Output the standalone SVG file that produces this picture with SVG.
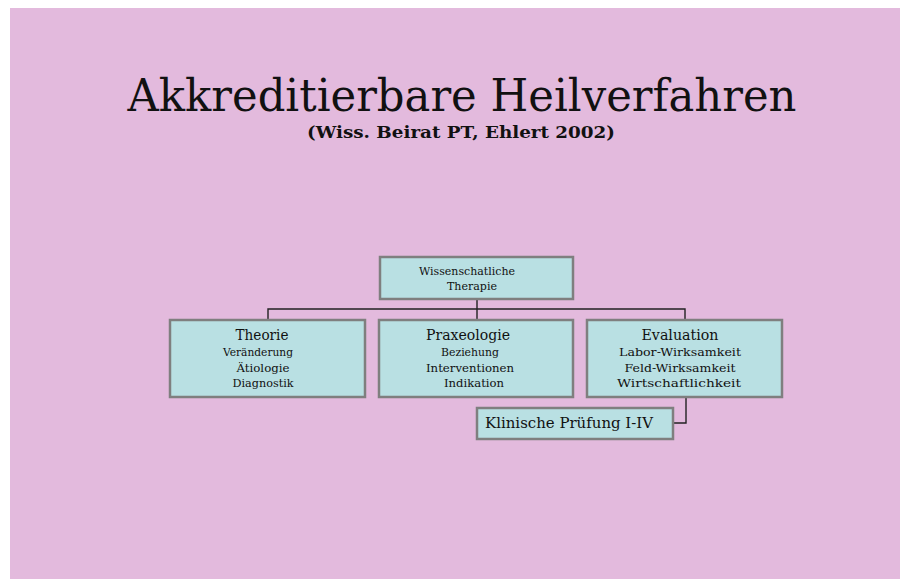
<svg xmlns="http://www.w3.org/2000/svg" width="900" height="579" viewBox="0 0 900 579">
<style>
.box{fill:#b9e0e3;stroke:#7f7f7f;stroke-width:2.5}
.t{font-family:'DejaVu Serif',serif;fill:#111;text-anchor:middle}
.h{font-size:14px}
.s{font-size:10.5px}
.conn{fill:none;stroke:#222;stroke-width:1.4}
</style>
<rect x="0" y="0" width="900" height="579" fill="#ffffff"/>
<rect x="10" y="8" width="890" height="571" fill="#e3badd"/>
<text class="t" x="462" y="111" font-size="44" textLength="669" lengthAdjust="spacingAndGlyphs">Akkreditierbare Heilverfahren</text>
<text class="t" x="461" y="138" font-size="17" font-weight="bold" textLength="308" lengthAdjust="spacingAndGlyphs">(Wiss. Beirat PT, Ehlert 2002)</text>
<g id="connectors">
<path class="conn" d="M477,299 V309 M268,320 V309 H685 V320 M477,309 V320"/>
<path class="conn" d="M686,397 V423 H673"/>
</g>
<g id="wissenschaftliche">
<rect class="box" x="380" y="257" width="193" height="42"/>
<text class="t s" x="467" y="275" textLength="96" lengthAdjust="spacingAndGlyphs">Wissenschatliche</text>
<text class="t s" x="472" y="290" textLength="50" lengthAdjust="spacingAndGlyphs">Therapie</text>
</g>
<g id="theorie">
<rect class="box" x="170" y="320" width="195" height="77"/>
<text class="t h" x="262" y="340" textLength="53" lengthAdjust="spacingAndGlyphs">Theorie</text>
<text class="t s" x="258" y="356" textLength="70" lengthAdjust="spacingAndGlyphs">Veränderung</text>
<text class="t s" x="263" y="372" textLength="53" lengthAdjust="spacingAndGlyphs">Ätiologie</text>
<text class="t s" x="263" y="387" textLength="61" lengthAdjust="spacingAndGlyphs">Diagnostik</text>
</g>
<g id="praxeologie">
<rect class="box" x="379" y="320" width="194" height="77"/>
<text class="t h" x="468" y="340" textLength="84" lengthAdjust="spacingAndGlyphs">Praxeologie</text>
<text class="t s" x="470" y="356" textLength="58" lengthAdjust="spacingAndGlyphs">Beziehung</text>
<text class="t s" x="470" y="372" textLength="88" lengthAdjust="spacingAndGlyphs">Interventionen</text>
<text class="t s" x="474" y="387" textLength="60" lengthAdjust="spacingAndGlyphs">Indikation</text>
</g>
<g id="evaluation">
<rect class="box" x="587" y="320" width="195" height="77"/>
<text class="t h" x="680" y="340" textLength="77" lengthAdjust="spacingAndGlyphs">Evaluation</text>
<text class="t s" x="680" y="356" textLength="122" lengthAdjust="spacingAndGlyphs">Labor-Wirksamkeit</text>
<text class="t s" x="680" y="372" textLength="111" lengthAdjust="spacingAndGlyphs">Feld-Wirksamkeit</text>
<text class="t s" x="679" y="387" textLength="124" lengthAdjust="spacingAndGlyphs">Wirtschaftlichkeit</text>
</g>
<g id="klinische">
<rect class="box" x="477" y="408" width="196" height="31"/>
<text class="t h" x="569" y="428" textLength="168" lengthAdjust="spacingAndGlyphs">Klinische Prüfung I-IV</text>
</g>
</svg>
